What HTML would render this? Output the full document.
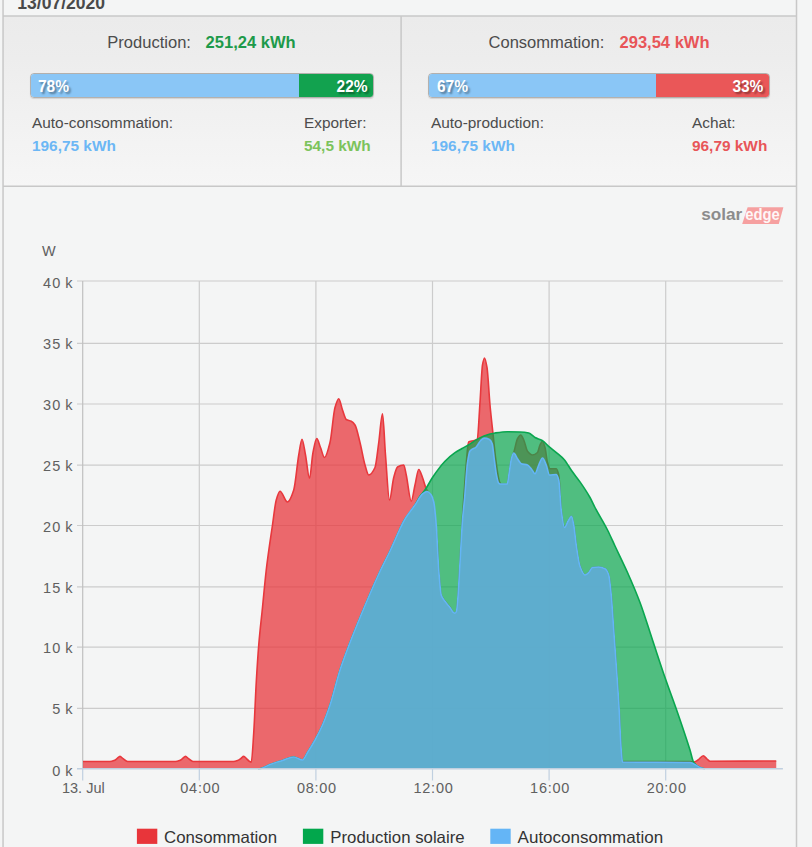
<!DOCTYPE html>
<html><head><meta charset="utf-8">
<style>
html,body{margin:0;padding:0;}
body{width:812px;height:847px;overflow:hidden;background:#f4f5f5;font-family:"Liberation Sans",sans-serif;position:relative;color:#555;}
.abs{position:absolute;white-space:nowrap;line-height:1;}
.vline{position:absolute;top:0;width:1px;height:847px;background:#c9c9c9;}
#panel{position:absolute;left:3px;top:16px;width:794px;height:170px;background:linear-gradient(#ebebeb,#ededed 25%,#f6f6f6);}
.t1{font-size:16.55px;color:#4c4c4c;}
.t2{font-size:15.4px;color:#4c4c4c;}
.b{font-weight:bold;}
.bar{position:absolute;top:73.4px;height:22.6px;border-radius:4px;overflow:hidden;border:1px solid rgba(140,135,130,0.6);box-sizing:content-box;box-shadow:0 1px 1px rgba(0,0,0,0.12);}
.bar i{display:none}
.bar div{position:absolute;top:0;height:100%;}
.pct{position:absolute;font-weight:bold;font-size:15.5px;color:#fff;line-height:1;text-shadow:2px 2px 2px rgba(0,0,0,0.4);transform:scaleY(1.03);transform-origin:50% 100%;white-space:nowrap;}
svg text.ax{font-family:"Liberation Sans",sans-serif;font-size:14.5px;fill:#606060;letter-spacing:1.2px;word-spacing:-1.6px;}
svg text.xl{letter-spacing:0.75px;word-spacing:0;}
svg text.lg{font-family:"Liberation Sans",sans-serif;font-size:16.5px;fill:#333;letter-spacing:0;}
</style></head><body>
<div class="abs b" style="left:17.3px;top:-5.4px;font-size:17.55px;color:#4a4a4a;">13/07/2020</div>
<div id="panel"></div>

<div class="abs t1" style="left:107.3px;top:35.2px;transform:translateY(0.45px);">Production:</div>
<div class="abs t1 b" style="left:205.6px;top:35.2px;transform:translateY(0.45px);color:#1d9a4a;">251,24 kWh</div>
<div class="bar" style="left:30px;width:342px;"><div style="left:0;width:267.5px;background:#8ac6f6;"></div><div style="left:267.5px;right:0;background:#12a24f;"></div><i></i></div>
<div class="pct" style="left:38px;top:79px;">78%</div>
<div class="pct" style="right:444.4px;top:79px;">22%</div>
<div class="abs t2" style="left:32px;top:115px;">Auto-consommation:</div>
<div class="abs t2 b" style="left:32px;top:137.7px;color:#6cb7f5;">196,75 kWh</div>
<div class="abs t2" style="left:304px;top:115px;">Exporter:</div>
<div class="abs t2 b" style="left:304px;top:137.7px;color:#7cc35c;">54,5 kWh</div>

<div class="abs t1" style="left:488.5px;top:35.2px;transform:translateY(0.45px);">Consommation:</div>
<div class="abs t1 b" style="left:619.5px;top:35.2px;transform:translateY(0.45px);color:#e85558;">293,54 kWh</div>
<div class="bar" style="left:428.4px;width:339.6px;"><div style="left:0;width:226.6px;background:#8ac6f6;"></div><div style="left:226.6px;right:0;background:#ea5758;"></div><i></i></div>
<div class="pct" style="left:437px;top:79px;">67%</div>
<div class="pct" style="right:48.6px;top:79px;">33%</div>
<div class="abs t2" style="left:431px;top:115px;">Auto-production:</div>
<div class="abs t2 b" style="left:431px;top:137.7px;color:#6cb7f5;">196,75 kWh</div>
<div class="abs t2" style="left:692px;top:115px;">Achat:</div>
<div class="abs t2 b" style="left:692px;top:137.7px;color:#e85558;">96,79 kWh</div>

<svg class="abs" style="left:0;top:0;" width="812" height="847" viewBox="0 0 812 847">
<g stroke="#c8c8c8" stroke-width="1.5" fill="none">
<path d="M3.05,0 V847"/><path d="M796.5,0 V847"/><path d="M401.1,16 V186.2"/>
<path d="M3.05,16 H796.5"/><path d="M3.05,186.2 H796.5"/>
</g>
<!-- logo -->
<g id="logo">
<polygon points="747.6,207.3 783.4,207.3 778.8,223.9 742.2,223.9" fill="#f6a0a0"/>
<text x="701.3" y="220.4" font-family="Liberation Sans, sans-serif" font-weight="bold" font-size="17" fill="#8c8c8c" textLength="41" lengthAdjust="spacingAndGlyphs">solar</text>
<text x="745.3" y="220.4" font-family="Liberation Sans, sans-serif" font-weight="bold" font-size="17" fill="#ffffff" fill-opacity="0.92" textLength="34.5" lengthAdjust="spacingAndGlyphs">edge</text>
</g>
<text x="42" y="256" class="ax">W</text>
<path d="M77.0,281.00 H782.9" stroke="#cccccc" stroke-width="1.2"/>
<path d="M77.0,343.30 H782.9" stroke="#cccccc" stroke-width="1.2"/>
<path d="M77.0,404.00 H782.9" stroke="#cccccc" stroke-width="1.2"/>
<path d="M77.0,465.10 H782.9" stroke="#cccccc" stroke-width="1.2"/>
<path d="M77.0,525.50 H782.9" stroke="#cccccc" stroke-width="1.2"/>
<path d="M77.0,586.90 H782.9" stroke="#cccccc" stroke-width="1.2"/>
<path d="M77.0,647.20 H782.9" stroke="#cccccc" stroke-width="1.2"/>
<path d="M77.0,708.40 H782.9" stroke="#cccccc" stroke-width="1.2"/>
<path d="M199.30,281.0 V768.7" stroke="#cccccc" stroke-width="1.2"/>
<path d="M315.90,281.0 V768.7" stroke="#cccccc" stroke-width="1.2"/>
<path d="M432.50,281.0 V768.7" stroke="#cccccc" stroke-width="1.2"/>
<path d="M549.10,281.0 V768.7" stroke="#cccccc" stroke-width="1.2"/>
<path d="M665.70,281.0 V768.7" stroke="#cccccc" stroke-width="1.2"/>

<path d="M82.7,281 V768.7" stroke="#c0c0c0" stroke-width="1.2"/>
<clipPath id="cp"><rect x="82.7" y="275" width="700" height="494.2"/></clipPath>
<g clip-path="url(#cp)">
<path d="M83.00,768.70 L83.00,761.50 C92.00,761.50 101.00,761.50 110.00,761.50 C111.33,761.50 112.67,761.06 114.00,760.60 C115.00,760.26 116.00,759.30 117.00,758.60 C118.00,757.90 119.00,756.40 120.00,756.40 C121.00,756.40 122.00,757.87 123.00,758.60 C124.00,759.33 125.00,760.40 126.00,760.80 C126.83,761.13 127.67,761.50 128.50,761.50 C144.17,761.50 159.83,761.50 175.50,761.50 C176.83,761.50 178.17,761.06 179.50,760.60 C180.50,760.26 181.50,759.30 182.50,758.60 C183.50,757.90 184.50,756.40 185.50,756.40 C186.50,756.40 187.50,757.87 188.50,758.60 C189.50,759.33 190.50,760.40 191.50,760.80 C192.33,761.13 193.17,761.50 194.00,761.50 C207.17,761.50 220.33,761.50 233.50,761.50 C234.83,761.50 236.17,761.05 237.50,760.60 C238.58,760.24 239.67,759.33 240.75,758.60 C241.75,757.93 242.75,756.40 243.75,756.40 C244.67,756.40 245.58,757.80 246.50,758.60 C247.33,759.33 248.17,760.43 249.00,761.00 C249.75,761.51 250.50,762.20 251.25,762.20 C252.08,762.20 252.92,744.92 253.75,732.50 C254.58,720.08 255.42,696.79 256.25,682.50 C257.08,668.21 257.92,655.14 258.75,645.00 C260.00,629.80 261.25,620.00 262.50,607.50 C263.75,595.00 265.00,580.61 266.25,570.00 C268.33,552.32 270.42,539.38 272.50,525.00 C273.75,516.37 275.00,504.32 276.25,500.00 C277.50,495.68 278.75,491.25 280.00,491.25 C282.50,491.25 285.00,502.00 287.50,502.00 C289.58,502.00 291.67,496.41 293.75,490.00 C295.42,484.87 297.08,464.42 298.75,455.00 C299.83,448.87 300.92,439.25 302.00,439.25 C303.17,439.25 304.33,449.10 305.50,455.00 C306.83,461.74 308.17,478.25 309.50,478.25 C310.67,478.25 311.83,458.30 313.00,452.50 C314.25,446.29 315.50,438.50 316.75,438.50 C318.00,438.50 319.25,444.44 320.50,447.50 C321.83,450.76 323.17,457.50 324.50,457.50 C326.33,457.50 328.17,449.75 330.00,442.50 C331.67,435.91 333.33,413.20 335.00,407.50 C336.25,403.23 337.50,398.75 338.75,398.75 C340.00,398.75 341.25,406.57 342.50,410.00 C343.75,413.43 345.00,418.70 346.25,419.50 C347.92,420.56 349.58,420.37 351.25,421.25 C352.50,421.91 353.75,423.11 355.00,425.00 C356.67,427.53 358.33,435.94 360.00,442.50 C361.67,449.06 363.33,459.49 365.00,465.00 C366.25,469.14 367.50,475.00 368.75,475.00 C370.83,475.00 372.92,472.00 375.00,467.50 C376.25,464.80 377.50,451.41 378.75,442.50 C380.00,433.59 381.25,413.75 382.50,413.75 C383.50,413.75 384.50,442.57 385.50,455.00 C386.83,471.58 388.17,500.00 389.50,500.00 C390.92,500.00 392.33,482.66 393.75,477.50 C395.00,472.95 396.25,467.77 397.50,467.00 C399.58,465.72 401.67,465.00 403.75,465.00 C404.58,465.00 405.42,471.27 406.25,475.00 C407.92,482.46 409.58,501.25 411.25,501.25 C412.50,501.25 413.75,490.29 415.00,485.00 C416.25,479.71 417.50,469.50 418.75,469.50 C420.00,469.50 421.25,474.38 422.50,477.50 C423.75,480.62 425.00,486.24 426.25,488.75 C427.17,490.59 428.08,491.51 429.00,493.00 C430.17,494.89 431.33,495.58 432.50,499.00 C433.33,501.44 434.17,511.46 435.00,519.00 C435.83,526.54 436.67,533.18 437.50,545.00 C437.92,550.91 438.33,564.23 438.75,570.00 C439.58,581.54 440.42,592.58 441.25,595.00 C442.50,598.62 443.75,599.23 445.00,601.00 C446.67,603.36 448.33,604.97 450.00,607.30 C451.08,608.81 452.17,611.47 453.25,612.30 C453.83,612.75 454.42,613.25 455.00,613.25 C455.50,613.25 456.00,612.32 456.50,611.00 C456.90,609.94 457.30,604.56 457.70,600.00 C458.47,591.26 459.23,575.78 460.00,562.50 C460.77,549.22 461.53,532.49 462.30,520.00 C462.87,510.77 463.43,503.11 464.00,495.00 C464.77,484.02 465.53,471.45 466.30,463.00 C467.07,454.55 467.83,442.45 468.60,442.00 C470.07,441.14 471.53,441.25 473.00,440.80 C474.40,440.37 475.80,440.34 477.20,439.30 C478.13,438.61 479.07,415.59 480.00,402.50 C480.83,390.81 481.67,369.62 482.50,365.00 C483.17,361.30 483.83,358.00 484.50,358.00 C485.33,358.00 486.17,362.72 487.00,367.50 C488.00,373.24 489.00,394.15 490.00,405.00 C491.00,415.85 492.00,424.33 493.00,433.75 C493.93,442.54 494.87,452.32 495.80,459.70 C496.57,465.76 497.33,471.92 498.10,475.70 C498.70,478.66 499.30,481.90 499.90,482.70 C500.43,483.41 500.97,484.00 501.50,484.00 C503.40,484.00 505.30,484.00 507.20,484.00 C507.80,484.00 508.40,477.40 509.00,473.90 C509.87,468.84 510.73,461.09 511.60,458.00 C512.32,455.45 513.03,454.63 513.75,452.50 C515.00,448.79 516.25,440.92 517.50,438.75 C518.58,436.87 519.67,435.00 520.75,435.00 C521.75,435.00 522.75,437.88 523.75,440.00 C525.00,442.65 526.25,449.71 527.50,451.25 C529.17,453.31 530.83,455.00 532.50,455.00 C534.17,455.00 535.83,454.05 537.50,452.50 C538.33,451.72 539.17,446.67 540.00,445.00 C540.83,443.33 541.67,441.25 542.50,441.25 C543.33,441.25 544.17,444.56 545.00,447.50 C545.83,450.44 546.67,459.56 547.50,462.50 C548.33,465.44 549.17,468.75 550.00,468.75 C552.08,468.75 554.17,468.75 556.25,468.75 C557.08,468.75 557.92,471.46 558.75,475.00 C559.58,478.54 560.42,503.39 561.25,510.00 C562.33,518.59 563.42,527.50 564.50,527.50 C565.67,527.50 566.83,523.10 568.00,521.25 C569.17,519.40 570.33,516.25 571.50,516.25 C572.25,516.25 573.00,521.10 573.75,525.00 C574.58,529.34 575.42,539.44 576.25,545.00 C577.50,553.33 578.75,562.51 580.00,566.00 C581.67,570.65 583.33,575.00 585.00,575.00 C586.25,575.00 587.50,573.61 588.75,572.50 C590.00,571.39 591.25,567.70 592.50,567.50 C594.58,567.16 596.67,567.00 598.75,567.00 C600.83,567.00 602.92,567.69 605.00,568.75 C606.25,569.39 607.50,571.39 608.75,575.00 C609.58,577.40 610.42,586.52 611.25,595.00 C612.08,603.48 612.92,618.33 613.75,630.00 C614.58,641.67 615.42,653.01 616.25,665.00 C617.08,676.99 617.92,688.07 618.75,702.00 C619.58,715.93 620.42,740.02 621.25,750.00 C621.67,754.99 622.08,761.50 622.50,761.50 C645.00,761.50 667.50,761.50 690.00,761.50 C691.25,761.50 692.50,762.00 693.75,762.00 C695.17,762.00 696.58,760.84 698.00,760.00 C699.75,758.97 701.50,755.75 703.25,755.75 C704.50,755.75 705.75,758.00 707.00,759.00 C708.00,759.80 709.00,761.25 710.00,761.25 C732.08,761.25 754.17,761.08 776.25,761.00 L776.25,768.70 Z" fill="#e8383d" fill-opacity="0.75"/>
<path d="M83.00,761.50 C92.00,761.50 101.00,761.50 110.00,761.50 C111.33,761.50 112.67,761.06 114.00,760.60 C115.00,760.26 116.00,759.30 117.00,758.60 C118.00,757.90 119.00,756.40 120.00,756.40 C121.00,756.40 122.00,757.87 123.00,758.60 C124.00,759.33 125.00,760.40 126.00,760.80 C126.83,761.13 127.67,761.50 128.50,761.50 C144.17,761.50 159.83,761.50 175.50,761.50 C176.83,761.50 178.17,761.06 179.50,760.60 C180.50,760.26 181.50,759.30 182.50,758.60 C183.50,757.90 184.50,756.40 185.50,756.40 C186.50,756.40 187.50,757.87 188.50,758.60 C189.50,759.33 190.50,760.40 191.50,760.80 C192.33,761.13 193.17,761.50 194.00,761.50 C207.17,761.50 220.33,761.50 233.50,761.50 C234.83,761.50 236.17,761.05 237.50,760.60 C238.58,760.24 239.67,759.33 240.75,758.60 C241.75,757.93 242.75,756.40 243.75,756.40 C244.67,756.40 245.58,757.80 246.50,758.60 C247.33,759.33 248.17,760.43 249.00,761.00 C249.75,761.51 250.50,762.20 251.25,762.20 C252.08,762.20 252.92,744.92 253.75,732.50 C254.58,720.08 255.42,696.79 256.25,682.50 C257.08,668.21 257.92,655.14 258.75,645.00 C260.00,629.80 261.25,620.00 262.50,607.50 C263.75,595.00 265.00,580.61 266.25,570.00 C268.33,552.32 270.42,539.38 272.50,525.00 C273.75,516.37 275.00,504.32 276.25,500.00 C277.50,495.68 278.75,491.25 280.00,491.25 C282.50,491.25 285.00,502.00 287.50,502.00 C289.58,502.00 291.67,496.41 293.75,490.00 C295.42,484.87 297.08,464.42 298.75,455.00 C299.83,448.87 300.92,439.25 302.00,439.25 C303.17,439.25 304.33,449.10 305.50,455.00 C306.83,461.74 308.17,478.25 309.50,478.25 C310.67,478.25 311.83,458.30 313.00,452.50 C314.25,446.29 315.50,438.50 316.75,438.50 C318.00,438.50 319.25,444.44 320.50,447.50 C321.83,450.76 323.17,457.50 324.50,457.50 C326.33,457.50 328.17,449.75 330.00,442.50 C331.67,435.91 333.33,413.20 335.00,407.50 C336.25,403.23 337.50,398.75 338.75,398.75 C340.00,398.75 341.25,406.57 342.50,410.00 C343.75,413.43 345.00,418.70 346.25,419.50 C347.92,420.56 349.58,420.37 351.25,421.25 C352.50,421.91 353.75,423.11 355.00,425.00 C356.67,427.53 358.33,435.94 360.00,442.50 C361.67,449.06 363.33,459.49 365.00,465.00 C366.25,469.14 367.50,475.00 368.75,475.00 C370.83,475.00 372.92,472.00 375.00,467.50 C376.25,464.80 377.50,451.41 378.75,442.50 C380.00,433.59 381.25,413.75 382.50,413.75 C383.50,413.75 384.50,442.57 385.50,455.00 C386.83,471.58 388.17,500.00 389.50,500.00 C390.92,500.00 392.33,482.66 393.75,477.50 C395.00,472.95 396.25,467.77 397.50,467.00 C399.58,465.72 401.67,465.00 403.75,465.00 C404.58,465.00 405.42,471.27 406.25,475.00 C407.92,482.46 409.58,501.25 411.25,501.25 C412.50,501.25 413.75,490.29 415.00,485.00 C416.25,479.71 417.50,469.50 418.75,469.50 C420.00,469.50 421.25,474.38 422.50,477.50 C423.75,480.62 425.00,486.24 426.25,488.75 C427.17,490.59 428.08,491.51 429.00,493.00 C430.17,494.89 431.33,495.58 432.50,499.00 C433.33,501.44 434.17,511.46 435.00,519.00 C435.83,526.54 436.67,533.18 437.50,545.00 C437.92,550.91 438.33,564.23 438.75,570.00 C439.58,581.54 440.42,592.58 441.25,595.00 C442.50,598.62 443.75,599.23 445.00,601.00 C446.67,603.36 448.33,604.97 450.00,607.30 C451.08,608.81 452.17,611.47 453.25,612.30 C453.83,612.75 454.42,613.25 455.00,613.25 C455.50,613.25 456.00,612.32 456.50,611.00 C456.90,609.94 457.30,604.56 457.70,600.00 C458.47,591.26 459.23,575.78 460.00,562.50 C460.77,549.22 461.53,532.49 462.30,520.00 C462.87,510.77 463.43,503.11 464.00,495.00 C464.77,484.02 465.53,471.45 466.30,463.00 C467.07,454.55 467.83,442.45 468.60,442.00 C470.07,441.14 471.53,441.25 473.00,440.80 C474.40,440.37 475.80,440.34 477.20,439.30 C478.13,438.61 479.07,415.59 480.00,402.50 C480.83,390.81 481.67,369.62 482.50,365.00 C483.17,361.30 483.83,358.00 484.50,358.00 C485.33,358.00 486.17,362.72 487.00,367.50 C488.00,373.24 489.00,394.15 490.00,405.00 C491.00,415.85 492.00,424.33 493.00,433.75 C493.93,442.54 494.87,452.32 495.80,459.70 C496.57,465.76 497.33,471.92 498.10,475.70 C498.70,478.66 499.30,481.90 499.90,482.70 C500.43,483.41 500.97,484.00 501.50,484.00 C503.40,484.00 505.30,484.00 507.20,484.00 C507.80,484.00 508.40,477.40 509.00,473.90 C509.87,468.84 510.73,461.09 511.60,458.00 C512.32,455.45 513.03,454.63 513.75,452.50 C515.00,448.79 516.25,440.92 517.50,438.75 C518.58,436.87 519.67,435.00 520.75,435.00 C521.75,435.00 522.75,437.88 523.75,440.00 C525.00,442.65 526.25,449.71 527.50,451.25 C529.17,453.31 530.83,455.00 532.50,455.00 C534.17,455.00 535.83,454.05 537.50,452.50 C538.33,451.72 539.17,446.67 540.00,445.00 C540.83,443.33 541.67,441.25 542.50,441.25 C543.33,441.25 544.17,444.56 545.00,447.50 C545.83,450.44 546.67,459.56 547.50,462.50 C548.33,465.44 549.17,468.75 550.00,468.75 C552.08,468.75 554.17,468.75 556.25,468.75 C557.08,468.75 557.92,471.46 558.75,475.00 C559.58,478.54 560.42,503.39 561.25,510.00 C562.33,518.59 563.42,527.50 564.50,527.50 C565.67,527.50 566.83,523.10 568.00,521.25 C569.17,519.40 570.33,516.25 571.50,516.25 C572.25,516.25 573.00,521.10 573.75,525.00 C574.58,529.34 575.42,539.44 576.25,545.00 C577.50,553.33 578.75,562.51 580.00,566.00 C581.67,570.65 583.33,575.00 585.00,575.00 C586.25,575.00 587.50,573.61 588.75,572.50 C590.00,571.39 591.25,567.70 592.50,567.50 C594.58,567.16 596.67,567.00 598.75,567.00 C600.83,567.00 602.92,567.69 605.00,568.75 C606.25,569.39 607.50,571.39 608.75,575.00 C609.58,577.40 610.42,586.52 611.25,595.00 C612.08,603.48 612.92,618.33 613.75,630.00 C614.58,641.67 615.42,653.01 616.25,665.00 C617.08,676.99 617.92,688.07 618.75,702.00 C619.58,715.93 620.42,740.02 621.25,750.00 C621.67,754.99 622.08,761.50 622.50,761.50 C645.00,761.50 667.50,761.50 690.00,761.50 C691.25,761.50 692.50,762.00 693.75,762.00 C695.17,762.00 696.58,760.84 698.00,760.00 C699.75,758.97 701.50,755.75 703.25,755.75 C704.50,755.75 705.75,758.00 707.00,759.00 C708.00,759.80 709.00,761.25 710.00,761.25 C732.08,761.25 754.17,761.08 776.25,761.00" fill="none" stroke="#e8383d" stroke-width="1.6"/>
<path d="M258.00,768.70 L258.00,769.00 C258.67,768.92 259.33,768.86 260.00,768.75 C263.33,768.18 266.67,765.72 270.00,764.50 C274.17,762.97 278.33,761.81 282.50,760.50 C286.25,759.32 290.00,757.00 293.75,757.00 C296.67,757.00 299.58,760.00 302.50,760.00 C304.17,760.00 305.83,755.12 307.50,752.50 C310.00,748.57 312.50,744.55 315.00,740.00 C317.50,735.45 320.00,730.71 322.50,725.00 C325.00,719.29 327.50,712.52 330.00,705.00 C333.33,694.97 336.67,680.27 340.00,670.00 C343.33,659.73 346.67,651.23 350.00,642.50 C353.33,633.77 356.67,625.62 360.00,617.50 C363.33,609.38 366.67,601.45 370.00,593.75 C373.33,586.05 376.67,578.36 380.00,571.25 C383.33,564.14 386.67,557.91 390.00,551.00 C395.00,540.63 400.00,527.34 405.00,519.00 C408.33,513.44 411.67,510.25 415.00,505.00 C416.67,502.38 418.33,498.68 420.00,496.25 C421.67,493.82 423.33,492.36 425.00,490.00 C427.50,486.46 430.00,481.19 432.50,477.50 C436.67,471.35 440.83,465.52 445.00,461.25 C448.33,457.84 451.67,455.03 455.00,452.70 C457.33,451.07 459.67,449.85 462.00,448.50 C464.27,447.19 466.53,446.06 468.80,444.70 C471.53,443.07 474.27,440.91 477.00,439.40 C479.33,438.11 481.67,436.89 484.00,436.00 C486.00,435.24 488.00,434.62 490.00,434.10 C491.67,433.67 493.33,433.24 495.00,433.00 C499.17,432.39 503.33,431.75 507.50,431.75 C511.67,431.75 515.83,431.85 520.00,432.00 C522.92,432.10 525.83,432.40 528.75,433.00 C530.83,433.43 532.92,436.39 535.00,437.50 C537.40,438.77 539.80,439.13 542.20,440.50 C544.67,441.91 547.13,445.11 549.60,447.20 C552.07,449.29 554.53,451.01 557.00,453.10 C559.43,455.16 561.87,456.96 564.30,459.70 C566.77,462.48 569.23,467.31 571.70,470.80 C574.47,474.72 577.23,477.93 580.00,481.90 C583.33,486.69 586.67,491.58 590.00,497.50 C591.67,500.46 593.33,504.32 595.00,507.50 C599.17,515.45 603.33,521.81 607.50,530.00 C610.00,534.92 612.50,540.68 615.00,546.00 C619.17,554.86 623.33,563.12 627.50,572.50 C631.67,581.88 635.83,591.39 640.00,602.50 C644.17,613.61 648.33,627.50 652.50,640.00 C656.67,652.50 660.83,665.43 665.00,677.50 C669.17,689.57 673.33,700.43 677.50,712.50 C681.67,724.57 685.83,736.72 690.00,750.00 C691.25,753.99 692.50,760.80 693.75,762.50 C695.83,765.33 697.92,766.61 700.00,767.50 C701.67,768.22 703.33,768.50 705.00,769.00 L705.00,768.70 Z" fill="#0aa64f" fill-opacity="0.7"/>
<path d="M258.00,769.00 C258.67,768.92 259.33,768.86 260.00,768.75 C263.33,768.18 266.67,765.72 270.00,764.50 C274.17,762.97 278.33,761.81 282.50,760.50 C286.25,759.32 290.00,757.00 293.75,757.00 C296.67,757.00 299.58,760.00 302.50,760.00 C304.17,760.00 305.83,755.12 307.50,752.50 C310.00,748.57 312.50,744.55 315.00,740.00 C317.50,735.45 320.00,730.71 322.50,725.00 C325.00,719.29 327.50,712.52 330.00,705.00 C333.33,694.97 336.67,680.27 340.00,670.00 C343.33,659.73 346.67,651.23 350.00,642.50 C353.33,633.77 356.67,625.62 360.00,617.50 C363.33,609.38 366.67,601.45 370.00,593.75 C373.33,586.05 376.67,578.36 380.00,571.25 C383.33,564.14 386.67,557.91 390.00,551.00 C395.00,540.63 400.00,527.34 405.00,519.00 C408.33,513.44 411.67,510.25 415.00,505.00 C416.67,502.38 418.33,498.68 420.00,496.25 C421.67,493.82 423.33,492.36 425.00,490.00 C427.50,486.46 430.00,481.19 432.50,477.50 C436.67,471.35 440.83,465.52 445.00,461.25 C448.33,457.84 451.67,455.03 455.00,452.70 C457.33,451.07 459.67,449.85 462.00,448.50 C464.27,447.19 466.53,446.06 468.80,444.70 C471.53,443.07 474.27,440.91 477.00,439.40 C479.33,438.11 481.67,436.89 484.00,436.00 C486.00,435.24 488.00,434.62 490.00,434.10 C491.67,433.67 493.33,433.24 495.00,433.00 C499.17,432.39 503.33,431.75 507.50,431.75 C511.67,431.75 515.83,431.85 520.00,432.00 C522.92,432.10 525.83,432.40 528.75,433.00 C530.83,433.43 532.92,436.39 535.00,437.50 C537.40,438.77 539.80,439.13 542.20,440.50 C544.67,441.91 547.13,445.11 549.60,447.20 C552.07,449.29 554.53,451.01 557.00,453.10 C559.43,455.16 561.87,456.96 564.30,459.70 C566.77,462.48 569.23,467.31 571.70,470.80 C574.47,474.72 577.23,477.93 580.00,481.90 C583.33,486.69 586.67,491.58 590.00,497.50 C591.67,500.46 593.33,504.32 595.00,507.50 C599.17,515.45 603.33,521.81 607.50,530.00 C610.00,534.92 612.50,540.68 615.00,546.00 C619.17,554.86 623.33,563.12 627.50,572.50 C631.67,581.88 635.83,591.39 640.00,602.50 C644.17,613.61 648.33,627.50 652.50,640.00 C656.67,652.50 660.83,665.43 665.00,677.50 C669.17,689.57 673.33,700.43 677.50,712.50 C681.67,724.57 685.83,736.72 690.00,750.00 C691.25,753.99 692.50,760.80 693.75,762.50 C695.83,765.33 697.92,766.61 700.00,767.50 C701.67,768.22 703.33,768.50 705.00,769.00" fill="none" stroke="#0aa64f" stroke-width="1.6"/>
<path d="M258.00,768.70 L258.00,769.00 C258.67,768.92 259.33,768.86 260.00,768.75 C263.33,768.18 266.67,765.72 270.00,764.50 C274.17,762.97 278.33,761.81 282.50,760.50 C286.25,759.32 290.00,757.00 293.75,757.00 C296.67,757.00 299.58,760.00 302.50,760.00 C304.17,760.00 305.83,755.12 307.50,752.50 C310.00,748.57 312.50,744.55 315.00,740.00 C317.50,735.45 320.00,730.71 322.50,725.00 C325.00,719.29 327.50,712.52 330.00,705.00 C333.33,694.97 336.67,680.27 340.00,670.00 C343.33,659.73 346.67,651.23 350.00,642.50 C353.33,633.77 356.67,625.62 360.00,617.50 C363.33,609.38 366.67,601.45 370.00,593.75 C373.33,586.05 376.67,578.36 380.00,571.25 C383.33,564.14 386.67,557.91 390.00,551.00 C395.00,540.63 400.00,527.34 405.00,519.00 C408.33,513.44 411.67,509.78 415.00,505.00 C417.50,501.41 420.00,495.94 422.50,494.00 C424.00,492.83 425.50,491.50 427.00,491.50 C428.42,491.50 429.83,493.11 431.25,495.00 C432.08,496.11 432.92,498.42 433.75,502.00 C434.58,505.58 435.42,514.85 436.25,525.00 C437.08,535.15 437.92,559.29 438.75,570.00 C439.58,580.71 440.42,592.50 441.25,595.00 C442.50,598.75 443.75,599.45 445.00,601.25 C446.67,603.65 448.33,605.23 450.00,607.50 C451.08,608.98 452.17,611.48 453.25,612.30 C453.83,612.74 454.42,613.25 455.00,613.25 C455.50,613.25 456.00,612.32 456.50,611.00 C456.90,609.94 457.30,604.56 457.70,600.00 C458.47,591.26 459.23,575.26 460.00,562.50 C460.83,548.63 461.67,530.73 462.50,520.00 C463.23,510.55 463.97,505.32 464.70,497.00 C465.60,486.79 466.50,469.46 467.40,463.30 C468.27,457.37 469.13,452.10 470.00,451.00 C472.07,448.38 474.13,448.88 476.20,447.00 C477.70,445.63 479.20,441.87 480.70,440.50 C481.87,439.43 483.03,438.10 484.20,438.10 C485.97,438.10 487.73,438.58 489.50,439.40 C490.40,439.82 491.30,441.32 492.20,443.80 C492.90,445.73 493.60,454.62 494.30,459.70 C495.07,465.26 495.83,471.92 496.60,475.70 C497.20,478.66 497.80,481.94 498.40,482.70 C498.97,483.42 499.53,484.00 500.10,484.00 C502.47,484.00 504.83,484.00 507.20,484.00 C507.80,484.00 508.40,477.40 509.00,473.90 C509.87,468.84 510.73,460.88 511.60,458.00 C512.32,455.62 513.03,453.00 513.75,453.00 C515.00,453.00 516.25,456.97 517.50,458.75 C518.75,460.53 520.00,463.29 521.25,463.75 C523.33,464.52 525.42,464.26 527.50,465.00 C528.75,465.44 530.00,467.32 531.25,468.75 C532.50,470.18 533.75,473.75 535.00,473.75 C536.25,473.75 537.50,467.59 538.75,465.00 C540.00,462.41 541.25,458.00 542.50,458.00 C543.75,458.00 545.00,462.08 546.25,465.00 C547.33,467.53 548.42,475.00 549.50,475.00 C551.75,475.00 554.00,474.50 556.25,474.50 C557.08,474.50 557.92,476.90 558.75,480.00 C559.58,483.10 560.42,503.70 561.25,510.00 C562.33,518.19 563.42,527.50 564.50,527.50 C565.67,527.50 566.83,523.10 568.00,521.25 C569.17,519.40 570.33,516.25 571.50,516.25 C572.25,516.25 573.00,521.10 573.75,525.00 C574.58,529.34 575.42,539.41 576.25,545.00 C577.50,553.39 578.75,562.82 580.00,566.25 C581.67,570.82 583.33,575.00 585.00,575.00 C586.25,575.00 587.50,573.61 588.75,572.50 C590.00,571.39 591.25,567.70 592.50,567.50 C594.58,567.16 596.67,567.00 598.75,567.00 C600.83,567.00 602.92,567.69 605.00,568.75 C606.25,569.39 607.50,571.39 608.75,575.00 C609.58,577.40 610.42,586.52 611.25,595.00 C612.08,603.48 612.92,618.33 613.75,630.00 C614.58,641.67 615.42,653.01 616.25,665.00 C617.08,676.99 617.92,688.07 618.75,702.00 C619.58,715.93 620.42,739.71 621.25,750.00 C621.67,755.14 622.08,761.99 622.50,762.00 C645.00,762.49 667.50,762.07 690.00,762.50 C693.33,762.56 696.67,766.28 700.00,767.50 C701.67,768.11 703.33,768.50 705.00,769.00 L705.00,768.70 Z" fill="#64b5f6" fill-opacity="0.75"/>
<path d="M258.00,769.00 C258.67,768.92 259.33,768.86 260.00,768.75 C263.33,768.18 266.67,765.72 270.00,764.50 C274.17,762.97 278.33,761.81 282.50,760.50 C286.25,759.32 290.00,757.00 293.75,757.00 C296.67,757.00 299.58,760.00 302.50,760.00 C304.17,760.00 305.83,755.12 307.50,752.50 C310.00,748.57 312.50,744.55 315.00,740.00 C317.50,735.45 320.00,730.71 322.50,725.00 C325.00,719.29 327.50,712.52 330.00,705.00 C333.33,694.97 336.67,680.27 340.00,670.00 C343.33,659.73 346.67,651.23 350.00,642.50 C353.33,633.77 356.67,625.62 360.00,617.50 C363.33,609.38 366.67,601.45 370.00,593.75 C373.33,586.05 376.67,578.36 380.00,571.25 C383.33,564.14 386.67,557.91 390.00,551.00 C395.00,540.63 400.00,527.34 405.00,519.00 C408.33,513.44 411.67,509.78 415.00,505.00 C417.50,501.41 420.00,495.94 422.50,494.00 C424.00,492.83 425.50,491.50 427.00,491.50 C428.42,491.50 429.83,493.11 431.25,495.00 C432.08,496.11 432.92,498.42 433.75,502.00 C434.58,505.58 435.42,514.85 436.25,525.00 C437.08,535.15 437.92,559.29 438.75,570.00 C439.58,580.71 440.42,592.50 441.25,595.00 C442.50,598.75 443.75,599.45 445.00,601.25 C446.67,603.65 448.33,605.23 450.00,607.50 C451.08,608.98 452.17,611.48 453.25,612.30 C453.83,612.74 454.42,613.25 455.00,613.25 C455.50,613.25 456.00,612.32 456.50,611.00 C456.90,609.94 457.30,604.56 457.70,600.00 C458.47,591.26 459.23,575.26 460.00,562.50 C460.83,548.63 461.67,530.73 462.50,520.00 C463.23,510.55 463.97,505.32 464.70,497.00 C465.60,486.79 466.50,469.46 467.40,463.30 C468.27,457.37 469.13,452.10 470.00,451.00 C472.07,448.38 474.13,448.88 476.20,447.00 C477.70,445.63 479.20,441.87 480.70,440.50 C481.87,439.43 483.03,438.10 484.20,438.10 C485.97,438.10 487.73,438.58 489.50,439.40 C490.40,439.82 491.30,441.32 492.20,443.80 C492.90,445.73 493.60,454.62 494.30,459.70 C495.07,465.26 495.83,471.92 496.60,475.70 C497.20,478.66 497.80,481.94 498.40,482.70 C498.97,483.42 499.53,484.00 500.10,484.00 C502.47,484.00 504.83,484.00 507.20,484.00 C507.80,484.00 508.40,477.40 509.00,473.90 C509.87,468.84 510.73,460.88 511.60,458.00 C512.32,455.62 513.03,453.00 513.75,453.00 C515.00,453.00 516.25,456.97 517.50,458.75 C518.75,460.53 520.00,463.29 521.25,463.75 C523.33,464.52 525.42,464.26 527.50,465.00 C528.75,465.44 530.00,467.32 531.25,468.75 C532.50,470.18 533.75,473.75 535.00,473.75 C536.25,473.75 537.50,467.59 538.75,465.00 C540.00,462.41 541.25,458.00 542.50,458.00 C543.75,458.00 545.00,462.08 546.25,465.00 C547.33,467.53 548.42,475.00 549.50,475.00 C551.75,475.00 554.00,474.50 556.25,474.50 C557.08,474.50 557.92,476.90 558.75,480.00 C559.58,483.10 560.42,503.70 561.25,510.00 C562.33,518.19 563.42,527.50 564.50,527.50 C565.67,527.50 566.83,523.10 568.00,521.25 C569.17,519.40 570.33,516.25 571.50,516.25 C572.25,516.25 573.00,521.10 573.75,525.00 C574.58,529.34 575.42,539.41 576.25,545.00 C577.50,553.39 578.75,562.82 580.00,566.25 C581.67,570.82 583.33,575.00 585.00,575.00 C586.25,575.00 587.50,573.61 588.75,572.50 C590.00,571.39 591.25,567.70 592.50,567.50 C594.58,567.16 596.67,567.00 598.75,567.00 C600.83,567.00 602.92,567.69 605.00,568.75 C606.25,569.39 607.50,571.39 608.75,575.00 C609.58,577.40 610.42,586.52 611.25,595.00 C612.08,603.48 612.92,618.33 613.75,630.00 C614.58,641.67 615.42,653.01 616.25,665.00 C617.08,676.99 617.92,688.07 618.75,702.00 C619.58,715.93 620.42,739.71 621.25,750.00 C621.67,755.14 622.08,761.99 622.50,762.00 C645.00,762.49 667.50,762.07 690.00,762.50 C693.33,762.56 696.67,766.28 700.00,767.50 C701.67,768.11 703.33,768.50 705.00,769.00" fill="none" stroke="#64b5f6" stroke-width="1.6"/>
</g>
<path d="M77,768.7 H782.9" stroke="#c0d0e0" stroke-width="1.6"/>
<text x="73.6" y="288.3" text-anchor="end" class="ax">40 k</text>
<text x="73.6" y="348.7" text-anchor="end" class="ax">35 k</text>
<text x="73.6" y="410.3" text-anchor="end" class="ax">30 k</text>
<text x="73.6" y="471.3" text-anchor="end" class="ax">25 k</text>
<text x="73.6" y="531.8" text-anchor="end" class="ax">20 k</text>
<text x="73.6" y="592.8" text-anchor="end" class="ax">15 k</text>
<text x="73.6" y="653.4" text-anchor="end" class="ax">10 k</text>
<text x="73.6" y="714.4" text-anchor="end" class="ax">5 k</text>
<text x="73.6" y="776.0" text-anchor="end" class="ax">0 k</text>

<text x="83.70" y="793.0" text-anchor="middle" class="ax xl" textLength="43.5" lengthAdjust="spacing">13. Jul</text>
<path d="M82.70,768.7 V780.5" stroke="#c0d0e0" stroke-width="1.2"/>
<text x="200.30" y="793.0" text-anchor="middle" class="ax xl">04:00</text>
<path d="M199.30,768.7 V780.5" stroke="#c0d0e0" stroke-width="1.2"/>
<text x="316.90" y="793.0" text-anchor="middle" class="ax xl">08:00</text>
<path d="M315.90,768.7 V780.5" stroke="#c0d0e0" stroke-width="1.2"/>
<text x="433.50" y="793.0" text-anchor="middle" class="ax xl">12:00</text>
<path d="M432.50,768.7 V780.5" stroke="#c0d0e0" stroke-width="1.2"/>
<text x="550.10" y="793.0" text-anchor="middle" class="ax xl">16:00</text>
<path d="M549.10,768.7 V780.5" stroke="#c0d0e0" stroke-width="1.2"/>
<text x="666.70" y="793.0" text-anchor="middle" class="ax xl">20:00</text>
<path d="M665.70,768.7 V780.5" stroke="#c0d0e0" stroke-width="1.2"/>

<rect x="136.9" y="828.7" width="20.4" height="15.2" fill="#e8353a"/>
<text x="164" y="842.7" class="lg" textLength="113" lengthAdjust="spacingAndGlyphs">Consommation</text>
<rect x="302.9" y="828.7" width="20.4" height="15.2" fill="#02a74c"/>
<text x="330.3" y="842.7" class="lg" textLength="134.3" lengthAdjust="spacingAndGlyphs">Production solaire</text>
<rect x="490.3" y="828.7" width="20.4" height="15.2" fill="#64b5f6"/>
<text x="517.6" y="842.7" class="lg" textLength="145.5" lengthAdjust="spacingAndGlyphs">Autoconsommation</text>
</svg>
</body></html>
